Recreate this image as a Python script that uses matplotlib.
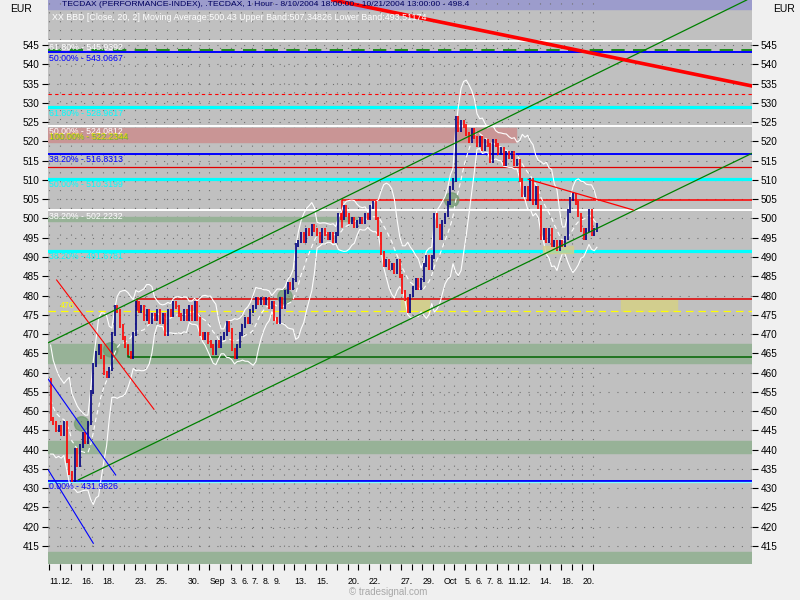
import matplotlib.pyplot as plt
import matplotlib.patches as mpatches
import numpy as np
import pandas as pd

plt.rcParams['font.family'] = ['Liberation Sans', 'DejaVu Sans']

# trading days (one tick per day, '' = tick without label)
day_labels = ["11.", "12.", "", "16.", "", "18.", "", "", "23.", "", "25.", "", "",
              "30.", "", "Sep", "", "3.", "6.", "7.", "8.", "9.", "", "13.", "", "15.",
              "", "", "20.", "", "22.", "", "", "27.", "", "29.", "", "Oct", "", "5.",
              "6.", "7.", "8.", "11.", "12.", "", "14.", "", "18.", "", "20.", ""]

# closes, ~4 per trading day (first value = last bar of Aug 10)
closes = [458,
          448, 447, 445, 446, 444, 447, 437, 434, 432, 440, 436, 441,
          444, 442, 447, 455, 462, 465, 467, 464, 460, 459, 461, 470,
          477, 476, 472, 469, 467, 465, 464, 470,
          478, 476, 477, 474, 476, 473, 475, 474, 476, 473, 475, 470,
          476, 475, 478, 477, 475, 474, 476, 474,
          477, 474, 478, 474, 470, 469, 470, 468, 467, 465, 468, 467,
          469, 470, 473, 471, 466, 464, 467, 470,
          472, 474, 473, 476, 477, 479, 478, 479, 478, 479, 477, 478,
          474, 473, 479, 477, 481, 483, 482, 484,
          493, 494, 496, 494, 497, 496, 498, 497, 496, 494, 497, 496,
          495, 496, 494, 496, 501, 500, 503, 501,
          499, 500, 498, 499, 500, 499, 501, 500, 503, 504, 500, 496,
          491, 488, 489, 487, 488, 486, 489, 485,
          481, 479, 476, 480, 482, 484, 482, 484, 488, 490, 487, 490,
          501, 498, 495, 499, 501, 504, 508, 510,
          526, 523, 525, 524, 522, 520, 523, 521, 519, 521, 518, 520,
          519, 515, 520, 519, 517, 518, 514, 517,
          516, 517, 514, 515, 510, 506, 508, 505, 510, 504, 508, 503,
          495, 497, 494, 497, 493, 494, 492, 494,
          493, 495, 502, 505, 506, 504, 501, 497, 495, 497, 502, 496,
          497, 498.4]

# fibonacci levels: (label, price, colour)
fib_levels = [("61.80% - 545.9392", 545.9392, "white"),
              ("50.00% - 543.0667", 543.0667, "#0000ff"),
              ("61.80% - 528.9617", 528.9617, "#00ffff"),
              ("50.00% - 524.0812", 524.0812, "white"),
              ("38.20% - 516.8313", 516.8313, "#0000ff"),
              ("50.00% - 510.3199", 510.3199, "#00ffff"),
              ("38.20% - 502.2232", 502.2232, "white"),
              ("38.20% - 491.6781", 491.6781, "#00ffff"),
              ("0.00% - 431.9826", 431.9826, "#0000ff")]

pos = np.r_[-0.1, np.arange(len(closes) - 1) * 0.25 + 0.125]
s = pd.Series(closes)
mid = s.rolling(9, min_periods=2).mean()
sd = s.rolling(9, min_periods=2).std()
upper = mid + 2 * sd
lower = mid - 2 * sd

fig = plt.figure(figsize=(8, 6), dpi=100, facecolor='#f0f0f0')
ax = fig.add_axes([48 / 800, 36 / 600, 704 / 800, 564 / 600])
ax.set_facecolor('#c0c0c0')
x0, x1 = -0.12, 65.92
ax.set_xlim(x0, x1)
ax.set_ylim(410.33, 556.68)
ax.set_axisbelow(True)
ax.grid(True, color='#707070', linestyle=(0, (1, 7)), lw=0.8)
for sp in ax.spines.values():
    sp.set_visible(False)

# title band
ax.axhspan(554.27, 556.68, color='#9c9ccc', zorder=0.5)

# shaded zones
green = '#97b297'
ax.axhspan(462.6, 467.3, color=green, zorder=0.6)
ax.axhspan(439.2, 442.3, color=green, zorder=0.6)
ax.axhspan(410.3, 413.5, color=green, zorder=0.6)
ax.add_patch(mpatches.Rectangle((x0, 499.3), 28.97, 1.2, color=green, zorder=0.6))
ax.add_patch(mpatches.Rectangle((x0, 519.9), 43.9, 3.6, color='#c99595', zorder=0.6))
khaki = '#d2ce8e'
ax.add_patch(mpatches.Rectangle((32.96, 476.05), 2.7, 2.95, color=khaki, zorder=0.6))
ax.add_patch(mpatches.Rectangle((53.63, 476.05), 5.25, 2.95, color=khaki, zorder=0.6))
ax.add_patch(mpatches.Rectangle((46.31, 491.0), 2.82, 1.9, color=khaki, zorder=3.5, alpha=0.8))

# fib lines and labels
for lab, lev, col in fib_levels:
    lw = 2.3 if col == "#00ffff" else 1.4
    ax.axhline(lev, color=col, lw=lw, zorder=2)
    ax.text(-0.05, lev - 0.45, lab, color=col, fontsize=6.3, va='top', ha='left', zorder=6)
ax.axhline(431.5, color='#80ffff', lw=0.9, zorder=2)
ax.text(-0.05, 522.4, "100.00% - 522.2344", color='#e8e000', fontsize=6.3, va='top', zorder=6)
ax.text(0.05, 522.2, "100.00% - 522.2344", color='#40c000', fontsize=6.3, va='top', zorder=6, alpha=0.6)

# other horizontals
ax.axhline(543.6, color='#008000', lw=1.2, ls=(0, (8, 5)), zorder=2)
ax.axhline(532.2, color='#ff0000', lw=0.8, ls=(0, (3, 3)), zorder=2)
ax.axhline(513.3, color='#e00000', lw=0.9, zorder=2)
ax.axhline(476.0, color='#ffff00', lw=0.9, ls=(0, (6, 4)), zorder=2)
ax.text(1.0, 477.3, "476", color='#ffff00', fontsize=6.3, va='center', zorder=6)
ax.plot([27.49, 27.49, x1], [497.9, 504.8, 504.8], color='#ff0000', lw=1.1, zorder=2)
ax.plot([8.23, 8.23, x1], [476.3, 479.0, 479.0], color='#e00000', lw=1.1, zorder=2)
ax.plot([7.41, 7.41, x1], [467.0, 464.0, 464.0], color='#006400', lw=1.1, zorder=2)

# green circles
for cx, cy in [(3.04, 446.7), (5.76, 465.9), (22.11, 479.7), (37.75, 504.8)]:
    ax.add_patch(mpatches.Ellipse((cx, cy), 1.35, 3.7, color='#6f9a6f', alpha=0.7, zorder=3))

# bollinger bands
ax.plot(pos, upper, color='white', lw=0.8, zorder=3)
ax.plot(pos, lower, color='white', lw=0.8, zorder=3)
ax.plot(pos, mid, color='white', lw=0.8, ls=(0, (4, 3)), zorder=3)

# price bars
c = np.array(closes, dtype=float)
prev, cur = c[:-1], c[1:]
cols = np.where(cur >= prev, '#000080', '#ff0000')
ax.vlines(pos[1:], np.minimum(prev, cur) - 0.5, np.maximum(prev, cur) + 0.5, colors=cols, lw=1.2, zorder=4)

# trend lines
ax.plot([-0.12, 65.42], [467.7, 556.68], color='#008000', lw=0.9, zorder=5)
ax.plot([2.72, 65.92], [432.14, 516.9], color='#008000', lw=0.9, zorder=5)
ax.plot([26.61, 65.92], [556.68, 534.37], color='#ff0000', lw=2.6, zorder=5)
ax.plot([0.69, 9.82], [484.03, 450.48], color='#ff0000', lw=0.8, zorder=5)
ax.plot([-0.09, 6.23], [458.26, 433.43], color='#0000ff', lw=0.8, zorder=5)
ax.plot([-0.09, 4.13], [434.73, 415.71], color='#0000ff', lw=0.8, zorder=5)
ax.plot([44.93, 54.78], [510.16, 502.19], color='#ff0000', lw=0.9, zorder=5)

# axes ticks
ax.set_xticks(range(len(day_labels)))
ax.set_xticklabels(day_labels, ha='left')
ax.set_yticks(np.arange(415, 546, 5))
ax.tick_params(axis='x', direction='out', length=4, width=0.8, pad=5, labelsize=6.3)
ax.tick_params(axis='y', direction='out', length=4, width=0.8, pad=2, labelsize=7.2,
               left=True, right=True, labelleft=True, labelright=True)

# header texts
fig.text(62 / 800, 1 - 5 / 600, "TECDAX (PERFORMANCE-INDEX), .TECDAX, 1 Hour - 8/10/2004 18:00:00 - 10/21/2004 13:00:00 - 498.4",
         color='#000060', fontsize=6.1, va='center')
fig.text(52 / 800, 1 - 17 / 600, "XX BBD [Close, 20, 2] Moving Average:500.43 Upper Band:507.34826 Lower Band:493.51174",
         color='white', fontsize=6.4, va='center')
fig.text(10 / 800, 1 - 9 / 600, "EUR", fontsize=7.5, va='center')
fig.text(795 / 800, 1 - 9 / 600, "EUR", fontsize=7.5, va='center', ha='right')
fig.text(388 / 800, 1 - 592 / 600, "\u00a9 tradesignal.com", color='#a8a8a8', fontsize=7, ha='center', va='center')

fig.savefig('out.png', dpi=100, facecolor=fig.get_facecolor())
